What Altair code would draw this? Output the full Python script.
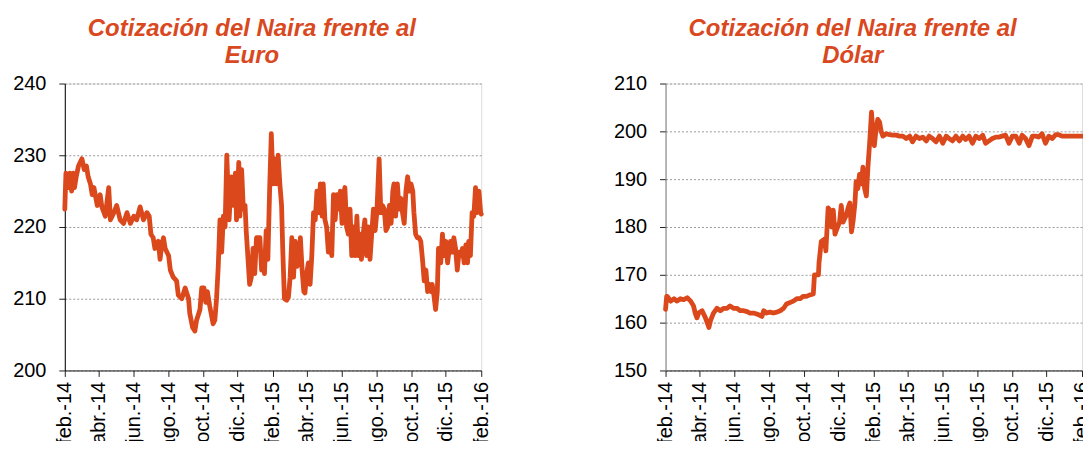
import altair as alt
import pandas as pd
import json

START = "2014-02-01"
END = "2016-02-01"

tick_dates = ["2014-02-01", "2014-04-01", "2014-06-01", "2014-08-01", "2014-10-01",
              "2014-12-01", "2015-02-01", "2015-04-01", "2015-06-01", "2015-08-01",
              "2015-10-01", "2015-12-01", "2016-02-01"]
tick_labels = ["feb.-14", "abr.-14", "jun.-14", "ago.-14", "oct.-14", "dic.-14",
               "feb.-15", "abr.-15", "jun.-15", "ago.-15", "oct.-15", "dic.-15", "feb.-16"]

# Naira vs Euro: days since 2014-02-01, value
euro_day = [0, 2, 6, 9, 12, 15, 17, 20, 24, 30, 34, 38, 41, 45, 48, 51, 57, 62, 65, 71,
            77, 80, 86, 91, 97, 103, 109, 115, 121, 126, 132, 138, 144, 148, 151, 155, 158, 164, 167, 170,
            173, 176, 182, 185, 190, 196, 199, 205, 211, 217, 219, 224, 228, 231, 237, 240, 244, 247, 250, 254,
            260, 263, 266, 269, 272, 275, 278, 281, 284, 288, 292, 295, 299, 301, 305, 307, 310, 313, 316, 318,
            324, 327, 330, 333, 336, 342, 345, 348, 350, 353, 356, 359, 362, 365, 368, 371, 374, 377, 380, 382,
            385, 389, 392, 395, 398, 401, 404, 407, 410, 413, 416, 419, 421, 424, 427, 430, 433, 436, 439, 442,
            445, 448, 451, 453, 456, 459, 462, 465, 468, 471, 474, 477, 480, 483, 486, 488, 491, 494, 497, 500,
            503, 506, 509, 512, 515, 518, 520, 523, 526, 529, 532, 535, 538, 541, 544, 547, 551, 554, 557, 560,
            563, 566, 569, 572, 575, 577, 580, 583, 586, 589, 592, 595, 598, 601, 604, 607, 610, 612, 615, 618,
            621, 624, 627, 630, 633, 636, 639, 642, 644, 647, 650, 653, 655, 659, 662, 665, 668, 671, 674, 676,
            679, 682, 685, 688, 691, 694, 697, 700, 703, 706, 708, 711, 714, 717, 720, 723, 726, 729, 730]
euro_val = [222.5, 227.5, 225.5, 227.5, 225, 227.5, 225.5, 227, 228.5, 229.5, 228, 228.5, 227, 226, 224.5, 225.5, 223, 224.5, 222.8, 221.5,
            225.5, 221, 222, 223, 221, 220.5, 222, 220.5, 221.5, 221, 222.8, 221, 222, 221.5, 219, 218.5, 217, 218, 215.5, 217.5,
            218.5, 217, 216, 214, 213, 212.5, 210.5, 210, 211.5, 210, 208, 206, 205.5, 207, 208.5, 211.5, 211.5, 209.5, 211, 209,
            206.5, 207, 210, 214.5, 221, 216.5, 221.5, 220, 230, 221, 227, 223, 227.5, 221, 229, 221.5, 228, 222.5, 223, 219.5,
            212, 213, 217, 213.5, 218.5, 218.5, 214, 216, 213.5, 219.5, 215.5, 225, 233, 226, 229.5, 226, 230, 226, 223, 217,
            210, 209.8, 210.2, 213, 218.5, 213, 218, 214.5, 215, 218.5, 214, 211, 210.8, 213.5, 215, 212, 216, 222, 221, 225,
            222, 226, 221.5, 226, 221, 220, 216.5, 219, 216, 224.5, 221, 224.5, 222.5, 225, 220.5, 224, 225.5, 220, 219, 222.5,
            216, 220, 216, 221.5, 216, 219, 215.5, 219, 221, 216, 220, 215.5, 219, 222.5, 219.5, 222, 229.5, 222, 223, 222.5,
            219.5, 220, 223, 220.5, 225, 226, 221.5, 226, 222.5, 224, 222, 220.5, 225, 227, 225, 226, 225, 222, 219, 218.5,
            218.5, 218, 215.5, 212.5, 214, 211, 212, 211, 212, 210.5, 208.5, 211, 217, 215, 219, 216, 218, 215, 217, 218,
            216.5, 218.5, 217, 214, 216.5, 216, 217, 215, 217.5, 215, 218, 216, 222, 221.5, 225.5, 222, 225, 222, 221.8]

# Naira vs Dollar: days since 2014-02-01, value
dolar_day = [0, 2, 3, 9, 15, 20, 26, 32, 38, 44, 49, 52, 55, 58, 64, 70, 76, 79, 84, 90,
             96, 102, 108, 113, 119, 125, 131, 137, 143, 148, 154, 160, 166, 169, 172, 177, 183, 189, 195, 201,
             207, 212, 224, 230, 236, 241, 247, 253, 259, 261, 268, 269, 273, 279, 281, 285, 288, 291, 294, 297,
             300, 305, 308, 311, 317, 320, 323, 326, 329, 332, 334, 337, 340, 343, 346, 349, 352, 355, 358, 361,
             364, 366, 369, 372, 375, 378, 381, 387, 393, 398, 404, 410, 416, 422, 428, 433, 439, 445, 451, 457,
             462, 468, 474, 480, 486, 492, 497, 503, 509, 515, 521, 526, 532, 538, 544, 550, 556, 561, 567, 573,
             579, 585, 590, 596, 602, 608, 614, 620, 625, 631, 637, 643, 649, 654, 660, 666, 672, 678, 684, 689,
             695, 701, 707, 713, 718, 724, 730]
dolar_val = [162.8, 165.5, 165.5, 164.5, 165, 164.5, 165, 164.8, 165.2, 164.5, 163.5, 162, 161, 162, 162.5, 161, 159, 160.5, 162, 163,
             162.5, 163, 163, 163.5, 163, 163, 162.5, 162.5, 162.3, 162, 162, 161.8, 161.5, 161.3, 162.5, 162, 162.2, 162, 162.2, 162.5,
             163, 163.9, 164.5, 165, 165, 165.5, 165.5, 165.8, 166, 170, 170, 172.5, 177, 177.5, 175, 184, 183.5, 180, 183.5, 178.5,
             179.5, 181, 184.5, 181, 182.5, 184, 185, 179, 181.5, 185, 189.5, 188, 191, 189, 192.5, 188, 186.5, 193, 198, 204,
             199, 197, 200.5, 202.5, 202, 200, 199, 199.5, 199.3, 199.2, 199.2, 199, 199, 198.5, 199, 197.8, 199, 198.5, 198.8, 198,
             199, 198.5, 197.8, 199, 197.5, 199, 198.5, 198, 199, 198, 199, 198.3, 199, 197.5, 199, 198.5, 199.2, 197.5, 198, 198.5,
             198.8, 198.8, 199, 199.2, 197.5, 199, 199, 197.5, 199.2, 198.5, 197, 199, 199, 198.8, 199.5, 197.5, 199, 198.5, 199.3, 199.3,
             199, 199, 199, 199, 199, 199, 199]

LINE = "#DA481C"
TITLE = "#D9481E"
FONT = "Liberation Sans"


def to_dates(days):
    return (pd.Timestamp(START) + pd.to_timedelta(days, unit="D")).strftime("%Y-%m-%d")


def ms(d):
    return int(pd.Timestamp(d).timestamp() * 1000)


tick_ms = [ms(d) for d in tick_dates]
label_expr = (f"{json.dumps(tick_labels)}"
              "[round((utcyear(datum.value) - 2014) * 6 + (utcmonth(datum.value) - 1) / 2)]")

df_euro = pd.DataFrame({"fecha": to_dates(euro_day), "valor": euro_val})
df_dolar = pd.DataFrame({"fecha": to_dates(dolar_day), "valor": dolar_val})


def panel(df, title, ydom, yvals, height, ydomain_color):
    x = alt.X(
        "fecha:T",
        title=None,
        scale=alt.Scale(type="utc", domain=[ms(START), ms(END)]),
        axis=alt.Axis(values=tick_ms, labelExpr=label_expr, labelAngle=270,
                      labelAlign="right", labelBaseline="middle", labelFontSize=20,
                      labelPadding=5, tickSize=6, tickColor="#222222",
                      domainColor="#222222", labelColor="black", grid=False,
                      labelOverlap=False, labelFlush=False, labelFont=FONT),
    )
    y = alt.Y(
        "valor:Q",
        title=None,
        scale=alt.Scale(domain=ydom, nice=False, zero=False),
        axis=alt.Axis(values=yvals, labelFontSize=20, labelPadding=13, tickSize=6,
                      grid=True, gridDash=[2, 2], gridColor="#9a9a9a", gridWidth=1,
                      domainColor=ydomain_color, tickColor="#222222",
                      labelColor="black", labelFont=FONT),
    )
    return alt.Chart(df).mark_line(
        color=LINE, strokeWidth=4.8, strokeJoin="round", strokeCap="round"
    ).encode(x=x, y=y).properties(
        width=418, height=height,
        title=alt.TitleParams(text=title, fontSize=24, font=FONT, fontStyle="italic",
                              fontWeight="bold", color=TITLE, anchor="middle",
                              frame="bounds", lineHeight=27, offset=6),
    )


left = panel(df_euro, ["Cotización del Naira frente al", "Euro"], [200, 240],
             [200, 210, 220, 230, 240], 288, "black")
right = panel(df_dolar, ["Cotización del Naira frente al", "Dólar"], [150, 210],
              [150, 160, 170, 180, 190, 200, 210], 288, "#808080")

chart = alt.hconcat(left, right, spacing=121).properties(
    padding={"left": 4, "top": 7, "right": -10, "bottom": -10}
).configure_view(stroke=None).configure(font=FONT)

chart.save("out.html", embed_options={"renderer": "svg", "actions": False})
